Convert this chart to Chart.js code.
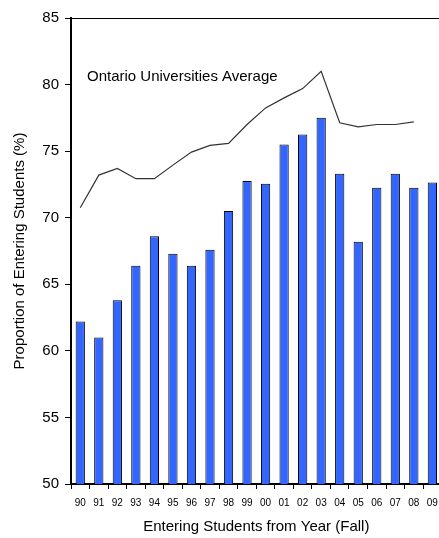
<!DOCTYPE html>
<html>
<head>
<meta charset="utf-8">
<script src="https://cdn.jsdelivr.net/npm/chart.js@4.4.0/dist/chart.umd.min.js"></script>
<style>
    html, body { margin: 0; padding: 0; background: #fff; overflow: hidden; }
    #wrap { width: 446px; height: 538px; }
</style>
</head>
<body>
<div id="wrap"><canvas id="chart" width="446" height="538"></canvas></div>
<script>
// Chart data
const years = ['90', '91', '92', '93', '94', '95', '96', '97', '98', '99',
               '00', '01', '02', '03', '04', '05', '06', '07', '08', '09'];
const entering = [62.2, 61.0, 63.8, 66.4, 68.6, 67.3, 66.4, 67.6, 70.5, 72.75,
                  72.55, 75.5, 76.25, 77.5, 73.3, 68.2, 72.25, 73.3, 72.25, 72.65];
const ontarioAvg = [70.75, 73.2, 73.7, 72.93, 72.93, 73.95, 74.93, 75.43, 75.58, 77.0,
                    78.25, 79.0, 79.7, 81.0, 77.13, 76.83, 77.0, 77.0, 77.2, null];
const avgLabel = 'Ontario Universities Average';

const font = 'Liberation Sans, Arial, sans-serif';

// Top border line + in-chart label
const extras = {
    id: 'extras',
    afterDraw(chart) {
        const ctx = chart.ctx;
        const area = chart.chartArea;
        ctx.save();
        ctx.strokeStyle = '#000';
        ctx.lineWidth = 1;
        ctx.beginPath();
        ctx.moveTo(area.left, area.top + 0.5);
        ctx.lineTo(area.right, area.top + 0.5);
        ctx.stroke();

        const y = chart.scales.y;
        ctx.fillStyle = '#000';
        ctx.font = '15px ' + font;
        ctx.textBaseline = 'middle';
        ctx.fillText(avgLabel, 87, y.getPixelForValue(80.55));
        ctx.restore();
    }
};

const ctx = document.getElementById('chart').getContext('2d');
new Chart(ctx, {
    data: {
        labels: years,
        datasets: [{
            type: 'line',
            data: ontarioAvg,
            borderColor: '#333',
            borderWidth: 1.2,
            pointRadius: 0,
            tension: 0,
            fill: false,
            order: 0
        }, {
            type: 'bar',
            data: entering,
            backgroundColor: '#3366FF',
            borderColor: '#000',
            borderWidth: 1,
            barPercentage: 0.5,
            categoryPercentage: 1,
            order: 1
        }]
    },
    options: {
        responsive: false,
        animation: false,
        layout: { padding: { top: 18, right: 3, left: 0, bottom: 0 } },
        plugins: {
            legend: { display: false },
            tooltip: { enabled: false }
        },
        scales: {
            x: {
                offset: true,
                grid: {
                    display: true,
                    drawOnChartArea: false,
                    offset: true,
                    tickLength: 5,
                    color: '#000'
                },
                border: { color: '#000', width: 2 },
                ticks: {
                    color: '#000',
                    font: { family: font, size: 10 },
                    maxRotation: 0,
                    autoSkip: false,
                    padding: 8
                },
                title: {
                    display: true,
                    text: 'Entering Students from Year (Fall)',
                    color: '#000',
                    font: { family: font, size: 15 },
                    padding: { top: 1, bottom: 2 }
                }
            },
            y: {
                min: 50,
                max: 85,
                afterFit(scale) { scale.width = 71; },
                grid: {
                    display: true,
                    drawOnChartArea: false,
                    tickLength: 6,
                    color: '#000'
                },
                border: { color: '#000', width: 2 },
                ticks: {
                    stepSize: 5,
                    color: '#000',
                    font: { family: font, size: 15 },
                    padding: 6
                },
                title: {
                    display: true,
                    text: 'Proportion of Entering Students (%)',
                    color: '#000',
                    font: { family: font, size: 15 },
                    padding: { top: 11, bottom: 0 }
                }
            }
        }
    },
    plugins: [extras]
});
</script>
</body>
</html>
